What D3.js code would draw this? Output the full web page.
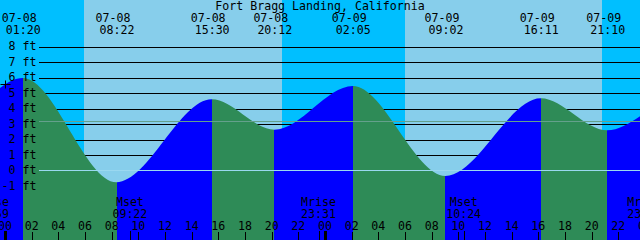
<!DOCTYPE html>
<html>
<head>
<meta charset="utf-8">
<script src="https://cdn.jsdelivr.net/npm/d3@7"></script>
<style>
  html, body { margin: 0; padding: 0; background: #fff; }
  svg { display: block; }
  text { font-family: "DejaVu Sans Mono", "Liberation Mono", monospace; font-size: 11.6px; fill: #000; }
</style>
</head>
<body>
<div id="container"></div>
<script>
const width = 640;
const height = 240;
const title = "Fort Bragg Landing, California";

// High / low tides (first and last two are just off the chart edges)
const tideTimes = ["07-07 13:40", "07-07 19:24", "07-08 01:20", "07-08 08:22", "07-08 15:30", "07-08 20:12",
	"07-09 02:05", "07-09 09:02", "07-09 16:11", "07-09 21:10", "07-10 02:55", "07-10 09:45"];
const tideHeights = [4.5, 2.75, 5.97, -0.76, 4.59, 2.63, 5.45, -0.35, 4.66, 2.59, 4.9, 0.0];

// Sunrise / sunset, chart starts at night
const sunTimes = ["07-08 05:56", "07-08 20:47", "07-09 05:59", "07-09 20:47"];

// Moon events
const moonTimes = ["07-07 22:59", "07-08 09:22", "07-08 23:31", "07-09 10:24", "07-09 23:59"];
const moonNames = ["Mrise", "Mset", "Mrise", "Mset", "Mrise"];

// Height axis
const ftTicks = [-1, 0, 1, 2, 3, 4, 5, 6, 7, 8];
const meanLevel = 3.21;

// "+" mark at chart midnight
const markTime = "07-08 00:00";
const markHeight = 5.55;

const parse = d3.utcParse("%m-%d %H:%M");
const fmtDate = d3.utcFormat("%m-%d");
const fmtTime = d3.utcFormat("%H:%M");
const fmtHour = d3.utcFormat("%H");

const t0 = new Date(parse("07-08 00:00").getTime() - 22.5 * 60000);
const t1 = new Date(t0.getTime() + 48 * 3600000);

const x = d3.scaleUtc().domain([t0, t1]).range([0, width]);
const y = d3.scaleLinear().domain([0, 8]).range([170.5, 46.5]);

const svg = d3.select("#container")
	.append("svg")
	.attr("width", width)
	.attr("height", height);

// Day / night background
let bounds = [t0].concat(sunTimes.map(parse)).concat([t1]);
svg.append("g")
	.selectAll("rect")
	.data(d3.pairs(bounds))
	.enter()
	.append("rect")
	.attr("x", d => x(d[0]))
	.attr("width", d => x(d[1]) - x(d[0]))
	.attr("y", 0)
	.attr("height", height)
	.attr("shape-rendering", "crispEdges")
	.attr("fill", (d, i) => i % 2 === 0 ? "#00BFFF" : "#87CEEB");

// Foot lines (behind the water)
svg.append("g")
	.selectAll("line")
	.data(ftTicks.filter(d => d !== 0))
	.enter()
	.append("line")
	.attr("x1", 39)
	.attr("x2", width)
	.attr("y1", d => Math.round(y(d)) + 0.5)
	.attr("y2", d => Math.round(y(d)) + 0.5)
	.attr("stroke", "#000")
	.attr("stroke-width", 1);

// Water
let tides = tideTimes.map((t, i) => ({ time: parse(t), h: tideHeights[i] }));

let area = d3.area()
	.x(d => x(d.time))
	.y0(height)
	.y1(d => y(d.h))
	.curve(d3.curveMonotoneX);

svg.append("clipPath")
	.attr("id", "water")
	.append("path")
	.attr("d", area(tides));

svg.append("g")
	.attr("clip-path", "url(#water)")
	.selectAll("rect")
	.data(d3.pairs(tides))
	.enter()
	.append("rect")
	.attr("x", d => x(d[0].time))
	.attr("width", d => x(d[1].time) - x(d[0].time))
	.attr("y", 0)
	.attr("height", height)
	.attr("shape-rendering", "crispEdges")
	.attr("fill", d => d[1].h > d[0].h ? "#0000FF" : "#2E8B57");

// Datum and mean level lines
svg.append("line")
	.attr("x1", 39).attr("x2", width)
	.attr("y1", Math.round(y(0)) - 0.5).attr("y2", Math.round(y(0)) - 0.5)
	.attr("stroke", "#9AD8F0");
svg.append("line")
	.attr("x1", 39).attr("x2", width)
	.attr("y1", Math.round(y(meanLevel)) + 0.5).attr("y2", Math.round(y(meanLevel)) + 0.5)
	.attr("stroke", "#64A08C");

// Foot labels
svg.append("g")
	.selectAll("text")
	.data(ftTicks)
	.enter()
	.append("text")
	.attr("x", 36.5)
	.attr("y", d => y(d) + 3.5)
	.attr("text-anchor", "end")
	.text(d => d + " ft");

// Title
svg.append("text")
	.attr("x", width / 2)
	.attr("y", 10)
	.attr("text-anchor", "middle")
	.text(title);

// High / low labels
let shown = tides.filter(d => x(d.time) >= 0 && x(d.time) <= width);
let tl = svg.append("g").selectAll("g")
	.data(shown)
	.enter()
	.append("g");
tl.append("text")
	.attr("x", d => x(d.time) - 3.5)
	.attr("y", 21.5)
	.attr("text-anchor", "middle")
	.text(d => fmtDate(d.time));
tl.append("text")
	.attr("x", d => x(d.time) + 0.5)
	.attr("y", 34)
	.attr("text-anchor", "middle")
	.text(d => fmtTime(d.time));

// Hour ticks
let hours = d3.utcHour.every(2).range(parse("07-07 22:00"), parse("07-10 02:00"));
let ht = svg.append("g").selectAll("g")
	.data(hours)
	.enter()
	.append("g");
ht.append("text")
	.attr("x", d => x(d))
	.attr("y", 229.5)
	.attr("text-anchor", "middle")
	.text(d => fmtHour(d));
ht.append("line")
	.attr("x1", d => Math.round(x(d)) + 0.5)
	.attr("x2", d => Math.round(x(d)) + 0.5)
	.attr("y1", d => d.getUTCHours() === 0 ? 231 : 232)
	.attr("y2", height)
	.attr("stroke", "#000")
	.attr("stroke-width", d => d.getUTCHours() === 0 ? 3 : 1);

// Moon events
let moon = moonTimes.map((t, i) => ({ time: parse(t), name: moonNames[i] }));
let mg = svg.append("g").selectAll("g")
	.data(moon)
	.enter()
	.append("g");
mg.append("text")
	.attr("x", d => x(d.time))
	.attr("y", 206)
	.attr("text-anchor", "middle")
	.text(d => d.name);
mg.append("text")
	.attr("x", d => x(d.time))
	.attr("y", 218)
	.attr("text-anchor", "middle")
	.text(d => fmtTime(d.time));
mg.append("line")
	.attr("x1", d => Math.round(x(d.time)) + 0.5)
	.attr("x2", d => Math.round(x(d.time)) + 0.5)
	.attr("y1", 231)
	.attr("y2", height)
	.attr("stroke", "#000");

// "+" mark
let mx = Math.round(x(parse(markTime))) + 0.5;
let my = Math.round(y(markHeight)) + 0.5;
svg.append("path")
	.attr("d", "M" + (mx - 5) + "," + my + "H" + (mx + 5) + "M" + mx + "," + (my - 4) + "V" + (my + 4))
	.attr("stroke", "#000")
	.attr("fill", "none");
</script>
</body>
</html>
